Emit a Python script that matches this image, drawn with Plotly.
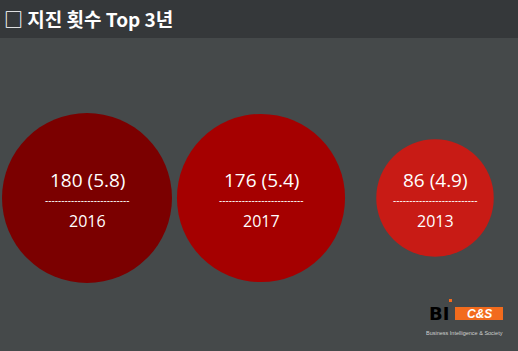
import plotly.graph_objects as go

# Data
years = ["2016", "2017", "2013"]
counts = [180, 176, 86]
magnitudes = [5.8, 5.4, 4.9]
colors = ["#7b0000", "#a50000", "#c81b15"]
title_text = "□ 지진 횟수 Top 3년"

W, H = 518, 351
BG = "#45494a"
BAR = "#35383a"

max_diameter = 170
sizeref = 2.0 * max(counts) / max_diameter ** 2

fig = go.Figure()
fig.add_trace(go.Scatter(
    x=years, y=[0] * len(years), mode="markers",
    marker=dict(size=counts, sizemode="area", sizeref=sizeref,
                color=colors, opacity=1, line=dict(width=0)),
    hoverinfo="skip", showlegend=False,
))

font_main = "Open Sans, Noto Sans, sans-serif"
for i, (yr, c, m) in enumerate(zip(years, counts, magnitudes)):
    fig.add_annotation(x=i, y=0, xref="x", yref="y", yshift=18, text=f"{c} ({m})", showarrow=False,
                       font=dict(size=19, color="white", family=font_main))
    fig.add_annotation(x=i, y=0, xref="x", yref="y", yshift=-2, text="-" * 26, showarrow=False,
                       font=dict(size=10, color="white", family="DejaVu Sans Condensed, DejaVu Sans"))
    fig.add_annotation(x=i, y=0, xref="x", yref="y", yshift=-23, text=yr, showarrow=False,
                       font=dict(size=16, color="white", family=font_main))

# title bar
fig.add_shape(type="rect", xref="paper", yref="paper", x0=0, x1=1,
              y0=1 - 38 / H, y1=1, fillcolor=BAR, line=dict(width=0), layer="below")
fig.add_annotation(xref="paper", yref="paper", x=2 / W, y=1 - 19 / H,
                   xanchor="left", yanchor="middle", showarrow=False,
                   text="<b>" + title_text + "</b>",
                   font=dict(size=19, color="white", family="Noto Sans CJK KR"))

# logo
def px(x):
    return x / W
def py(y):
    return 1 - y / H

fig.add_shape(type="rect", xref="paper", yref="paper", x0=px(455), x1=px(503),
              y0=py(320), y1=py(307), fillcolor="#f26b1d", line=dict(width=0))
fig.add_shape(type="rect", xref="paper", yref="paper", x0=px(449), x1=px(452),
              y0=py(302), y1=py(299), fillcolor="#f26b1d", line=dict(width=0))
fig.add_annotation(xref="paper", yref="paper", x=px(439), y=py(313.5),
                   text="<b>BI</b>", showarrow=False, xanchor="center", yanchor="middle",
                   font=dict(size=18, color="black", family="DejaVu Sans"))
fig.add_annotation(xref="paper", yref="paper", x=px(479), y=py(313.5),
                   text="<b><i>C&amp;S</i></b>", showarrow=False, xanchor="center", yanchor="middle",
                   font=dict(size=12, color="white", family="Liberation Sans"))
fig.add_annotation(xref="paper", yref="paper", x=px(464), y=py(333),
                   text="Business Intelligence &amp; Society", showarrow=False,
                   xanchor="center", yanchor="middle",
                   font=dict(size=5.5, color="#cfd0d0", family="Liberation Sans"))

fig.update_layout(
    width=W, height=H,
    margin=dict(l=0, r=0, t=0, b=0),
    paper_bgcolor=BG, plot_bgcolor=BG,
    xaxis=dict(type="category", range=[-0.5, 2.477], visible=False, fixedrange=True),
    yaxis=dict(range=[-0.4359, 0.5641], visible=False, fixedrange=True),
    showlegend=False,
)

fig.write_html("out.html")
